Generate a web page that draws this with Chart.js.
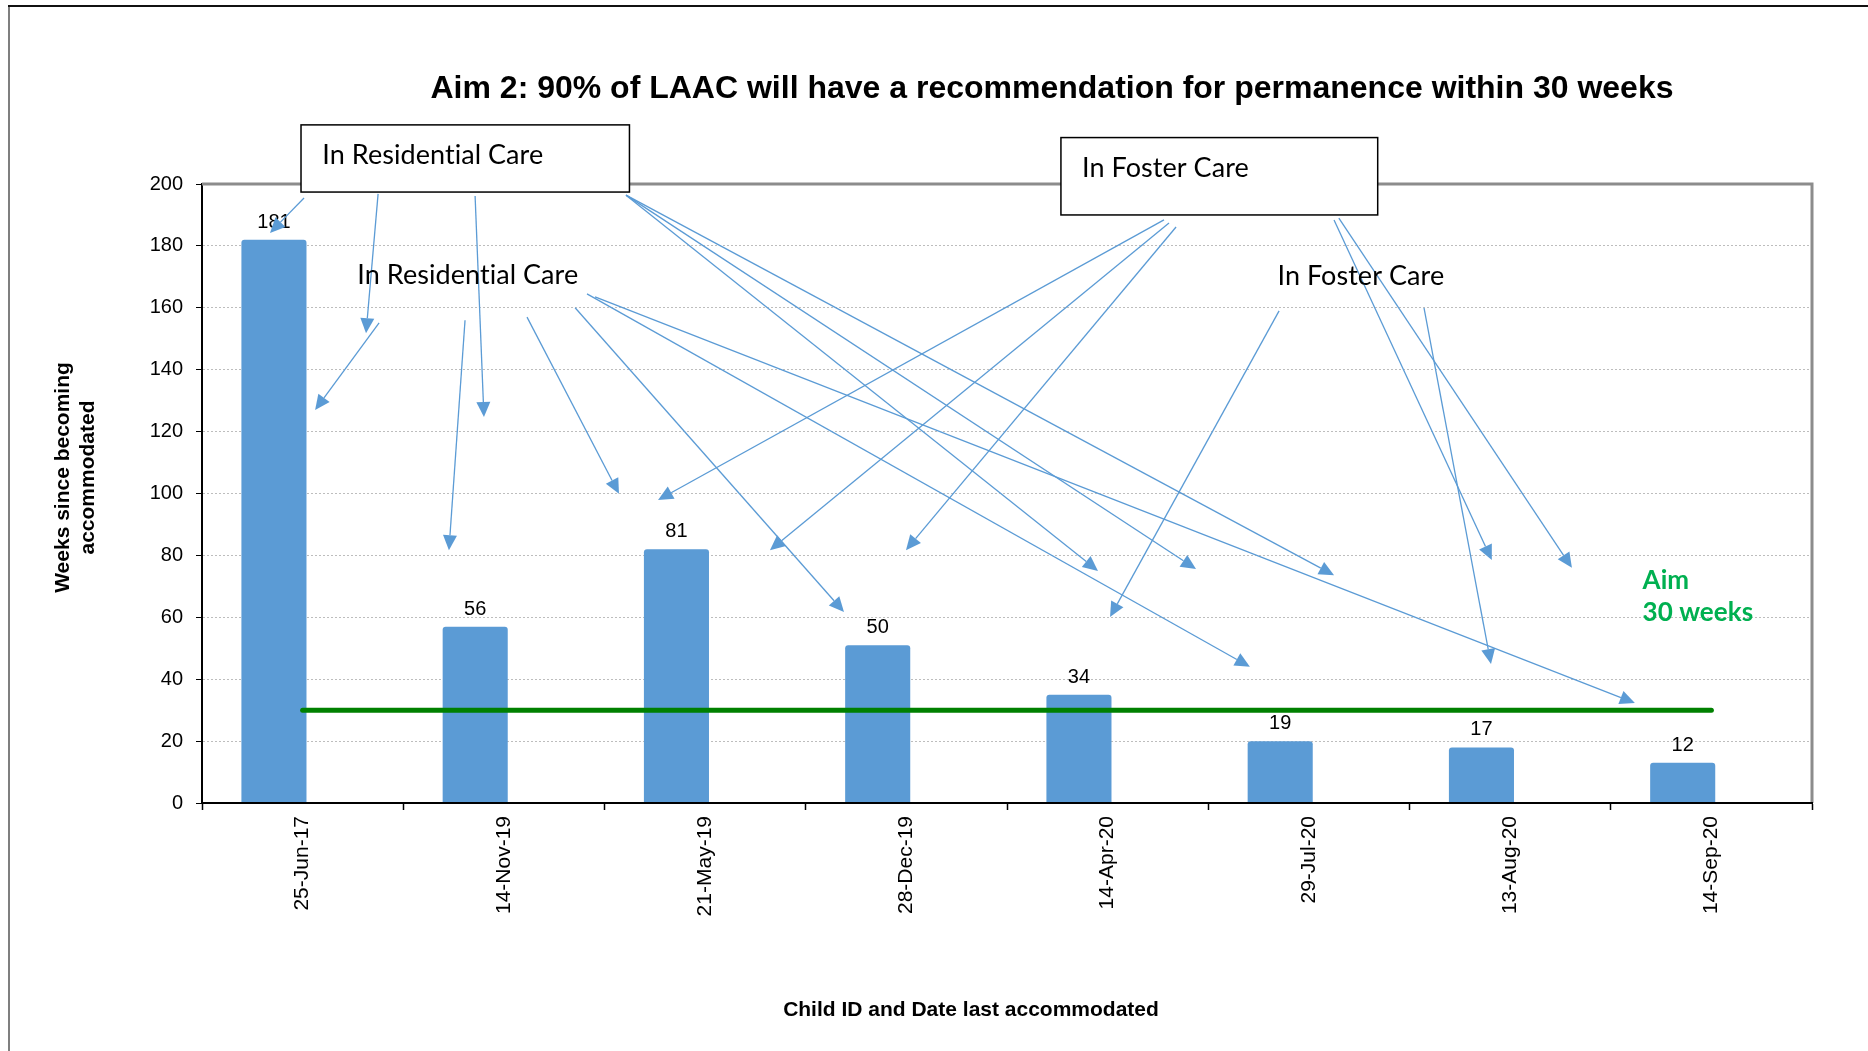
<!DOCTYPE html>
<html>
<head>
<meta charset="utf-8">
<title>Aim 2: recommendation for permanence</title>
<script src="https://cdn.jsdelivr.net/npm/chart.js@4.4.1/dist/chart.umd.min.js"></script>
<style>
  html, body { margin: 0; padding: 0; background: #fff; }
  #wrap { position: relative; width: 1868px; height: 1051px; }
</style>
</head>
<body>
<div id="wrap"><canvas id="chart"></canvas></div>
<script>
'use strict';

var categories = ['25-Jun-17', '14-Nov-19', '21-May-19', '28-Dec-19', '14-Apr-20', '29-Jul-20', '13-Aug-20', '14-Sep-20'];
var weeks = [181, 56, 81, 50, 34, 19, 17, 12];
var aimWeeks = [30, 30, 30, 30, 30, 30, 30, 30];
var spacer = [null, null, null, null, null, null, null, null]; // empty 2nd series, pushes bars left like the excel original
var yMin = 0, yMax = 200, yStep = 20;

var titleText = 'Aim 2: 90% of LAAC will have a recommendation for permanence within 30 weeks';
var xTitle = 'Child ID and Date last accommodated';
var yTitle = ['Weeks since becoming', 'accommodated'];

// call-outs, in chart units: x = category index, y = weeks
var calloutBoxes = [
  [-0.008, 219.1, 1.624, 197.4],
  [3.768, 215.0, 5.342, 190.0]
];
var calloutTexts = [
  ['In Residential Care', 0.098, 206.4],
  ['In Residential Care', 0.272, 167.7],
  ['In Foster Care', 3.873, 202.4],
  ['In Foster Care', 4.844, 167.4]
];
var arrows = [
  [0.007, 195.5, -0.162, 184.2],
  [0.375, 196.8, 0.315, 151.8],
  [0.857, 196.1, 0.901, 124.7],
  [1.607, 196.4, 3.952, 75.0],
  [1.607, 196.4, 4.439, 75.6],
  [1.607, 196.4, 5.125, 73.6],
  [0.380, 155.1, 0.062, 127.0],
  [0.807, 156.0, 0.727, 81.7],
  [1.115, 157.0, 1.572, 99.9],
  [1.354, 160.0, 2.690, 61.7],
  [1.413, 164.5, 4.707, 44.0],
  [1.453, 163.5, 6.620, 32.3],
  [4.280, 188.4, 1.766, 97.9],
  [4.305, 187.4, 2.322, 81.7],
  [4.340, 186.1, 2.998, 81.7],
  [5.125, 188.4, 5.909, 78.5],
  [5.149, 189.0, 6.307, 76.0],
  [4.852, 159.0, 4.012, 60.1],
  [5.572, 160.0, 5.905, 44.9]
];
var aimNote = [['Aim', 6.658, 69.0], ['30 weeks', 6.658, 58.9]];

var SANS = "'Liberation Sans', Arial, sans-serif";
var CALLOUT_FONT = "27px Lato, 'Open Sans', sans-serif";
var BAR_INFLATE = 3;

function drawArrow(ctx, x1, y1, x2, y2) {
  var ang = Math.atan2(y2 - y1, x2 - x1), len = 15, half = 7;
  var bx = x2 - len * Math.cos(ang), by = y2 - len * Math.sin(ang);
  ctx.beginPath();
  ctx.moveTo(x1, y1);
  ctx.lineTo(bx, by);
  ctx.stroke();
  ctx.beginPath();
  ctx.moveTo(x2, y2);
  ctx.lineTo(bx + half * Math.sin(ang), by - half * Math.cos(ang));
  ctx.lineTo(bx - half * Math.sin(ang), by + half * Math.cos(ang));
  ctx.closePath();
  ctx.fill();
}

var decorPlugin = {
  id: 'decor',
  beforeDraw: function(chart) {
    var ctx = chart.ctx;
    ctx.save();
    ctx.fillStyle = '#fff';
    ctx.fillRect(0, 0, chart.width, chart.height);
    // outer frame of the slide
    ctx.lineWidth = 2;
    ctx.strokeStyle = '#7f7f7f';
    ctx.beginPath(); ctx.moveTo(9, chart.height); ctx.lineTo(9, 6); ctx.stroke();
    ctx.strokeStyle = '#111';
    ctx.beginPath(); ctx.moveTo(8, 6); ctx.lineTo(chart.width, 6); ctx.stroke();
    ctx.restore();
  },
  beforeDatasetsDraw: function(chart) {
    var a = chart.chartArea, ctx = chart.ctx;
    ctx.save();
    ctx.strokeStyle = '#8c8c8c';
    ctx.lineWidth = 3;
    ctx.beginPath();
    ctx.moveTo(a.left, a.top);
    ctx.lineTo(a.right, a.top);
    ctx.lineTo(a.right, a.bottom);
    ctx.stroke();
    ctx.restore();
  },
  afterDatasetsDraw: function(chart) {
    var ctx = chart.ctx, xs = chart.scales.x, ys = chart.scales.y, a = chart.chartArea;
    var px = function(v) { return xs.getPixelForValue(v); };
    var py = function(v) { return ys.getPixelForValue(v); };
    ctx.save();

    // value labels
    var meta = chart.getDatasetMeta(1);
    ctx.fillStyle = '#000';
    ctx.font = '20px ' + SANS;
    ctx.textAlign = 'center';
    ctx.textBaseline = 'alphabetic';
    meta.data.forEach(function(bar, i) {
      ctx.fillText(String(weeks[i]), bar.x, bar.y - BAR_INFLATE - 12);
    });

    // boxes
    ctx.lineWidth = 1.5;
    ctx.strokeStyle = '#000';
    ctx.fillStyle = '#fff';
    calloutBoxes.forEach(function(b) {
      var x = px(b[0]), y = py(b[1]), w = px(b[2]) - x, h = py(b[3]) - y;
      ctx.fillRect(x, y, w, h);
      ctx.strokeRect(x, y, w, h);
    });

    // arrows
    ctx.strokeStyle = '#5B9BD5';
    ctx.fillStyle = '#5B9BD5';
    ctx.lineWidth = 1.3;
    arrows.forEach(function(r) {
      drawArrow(ctx, px(r[0]), py(r[1]), px(r[2]), py(r[3]));
    });

    // call-out text (tiny letterSpacing stops the ti ligature)
    ctx.letterSpacing = '0.05px';
    ctx.fillStyle = '#000';
    ctx.font = CALLOUT_FONT;
    ctx.textAlign = 'left';
    calloutTexts.forEach(function(t) {
      ctx.fillText(t[0], px(t[1]), py(t[2]));
    });

    ctx.fillStyle = '#00B050';
    ctx.font = "bold 26px Lato, 'Open Sans', sans-serif";
    aimNote.forEach(function(t) {
      ctx.fillText(t[0], px(t[1]), py(t[2]));
    });
    ctx.letterSpacing = '0px';

    // titles
    ctx.fillStyle = '#000';
    ctx.textAlign = 'center';
    ctx.font = 'bold 32px ' + SANS;
    ctx.fillText(titleText, 1052, 98);

    ctx.font = 'bold 21px ' + SANS;
    ctx.fillText(xTitle, (a.left + a.right) / 2 - 36, 1016);

    ctx.translate(75.5, (a.top + a.bottom) / 2 - 16);
    ctx.rotate(-Math.PI / 2);
    ctx.textBaseline = 'middle';
    ctx.fillText(yTitle[0], 0, -12.5);
    ctx.fillText(yTitle[1], 0, 12.5);
    ctx.restore();
  }
};

new Chart(document.getElementById('chart'), {
  type: 'bar',
  data: {
    labels: categories,
    datasets: [{
      type: 'line',
      label: 'Aim',
      data: aimWeeks,
      borderColor: '#008000',
      borderWidth: 5,
      borderCapStyle: 'round',
      pointRadius: 0,
      fill: false,
      order: 0
    }, {
      label: 'Weeks since becoming accommodated',
      data: weeks,
      backgroundColor: '#5B9BD5',
      borderRadius: 3,
      inflateAmount: BAR_INFLATE,
      categoryPercentage: 0.57,
      barPercentage: 1.03,
      order: 1
    }, {
      label: 'spacer',
      data: spacer,
      backgroundColor: 'rgba(0,0,0,0)',
      categoryPercentage: 0.57,
      barPercentage: 1.03,
      order: 2
    }]
  },
  options: {
    responsive: true,
    maintainAspectRatio: false,
    devicePixelRatio: 1,
    animation: false,
    layout: { padding: { top: 184, right: 56, bottom: 0, left: 0 } },
    plugins: {
      legend: { display: false },
      tooltip: { enabled: false },
      title: { display: false }
    },
    scales: {
      x: {
        offset: true,
        grid: { offset: true, drawOnChartArea: false, tickLength: 7, tickColor: '#000', tickWidth: 1.5 },
        border: { display: true, color: '#000', width: 2, z: 1 },
        ticks: { autoSkip: false, minRotation: 90, maxRotation: 90, padding: 6, color: '#000', font: { family: SANS, size: 21 } },
        afterFit: function(scale) { scale.height = 248; }
      },
      y: {
        min: yMin,
        max: yMax,
        ticks: { stepSize: yStep, padding: 13, color: '#000', font: { family: SANS, size: 20 } },
        grid: { color: '#bdbdbd', lineWidth: 1, tickColor: '#000', tickLength: 6 },
        border: { display: true, color: '#000', width: 2, dash: [2, 2] },
        afterFit: function(scale) { scale.width = 202; }
      }
    }
  },
  plugins: [decorPlugin]
});
</script>
</body>
</html>
